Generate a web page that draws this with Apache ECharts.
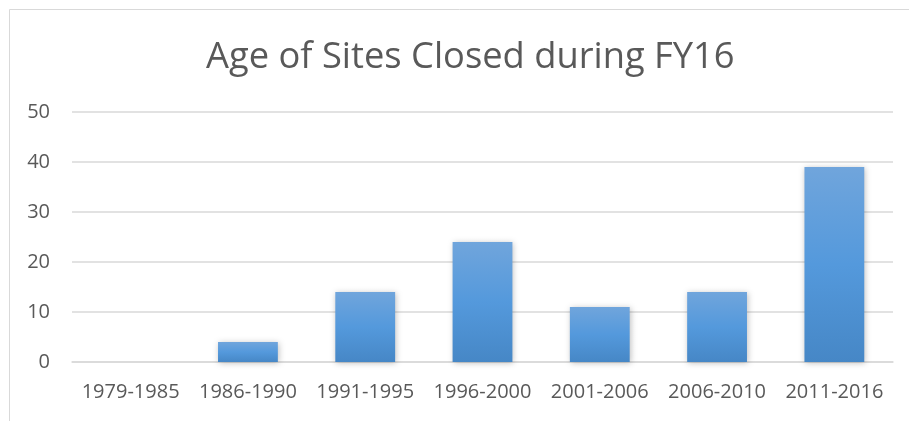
<!DOCTYPE html>
<html><head><meta charset="utf-8">
<script src="https://cdn.jsdelivr.net/npm/echarts@6/dist/echarts.min.js"></script>
<style>html,body{margin:0;padding:0;background:#fff}#c{width:909px;height:421px}</style>
</head><body><div id="c"></div>
<script>
const titleText = 'Age of Sites Closed during FY16';
const categories = ['1979-1985','1986-1990','1991-1995','1996-2000','2001-2006','2006-2010','2011-2016'];
const values = [0, 4, 14, 24, 11, 14, 39];
const yTicks = {min: 0, max: 50, interval: 10};

const chart = echarts.init(document.getElementById('c'), null, {renderer: 'canvas'});
chart.setOption({
  animation: false,
  backgroundColor: '#fff',
  graphic: [{
    type: 'rect', left: 7, top: 7, z: -1,
    shape: {width: 900, height: 430},
    style: {fill: 'none', stroke: '#d9d9d9', lineWidth: 1}
  }],
  title: {
    text: titleText, left: 201, top: 35,
    textStyle: {fontFamily: 'Open Sans', fontSize: 36.3, fontWeight: 'normal', color: '#595959'}
  },
  grid: {left: 72, right: 16, top: 112, bottom: 59},
  xAxis: {
    type: 'category', data: categories,
    axisLine: {show: true, lineStyle: {color: '#d9d9d9', width: 1.5}},
    axisTick: {show: false},
    axisLabel: {fontFamily: 'Open Sans', fontSize: 20, color: '#595959', margin: 20, interval: 0}
  },
  yAxis: {
    type: 'value', min: yTicks.min, max: yTicks.max, interval: yTicks.interval,
    axisLine: {show: false}, axisTick: {show: false},
    splitLine: {lineStyle: {color: '#d9d9d9', width: 1.5}},
    axisLabel: {fontFamily: 'Open Sans', fontSize: 20, color: '#595959', margin: 22}
  },
  series: [{
    type: 'bar', data: values, barWidth: '51%',
    itemStyle: {
      color: new echarts.graphic.LinearGradient(0, 0, 0, 1, [
        {offset: 0, color: '#70a5dc'},
        {offset: 0.5, color: '#5499dc'},
        {offset: 1, color: '#4687c6'}
      ]),
      shadowColor: 'rgba(0,0,0,0.25)', shadowBlur: 6, shadowOffsetX: 1, shadowOffsetY: 1
    }
  }]
});
</script></body></html>
